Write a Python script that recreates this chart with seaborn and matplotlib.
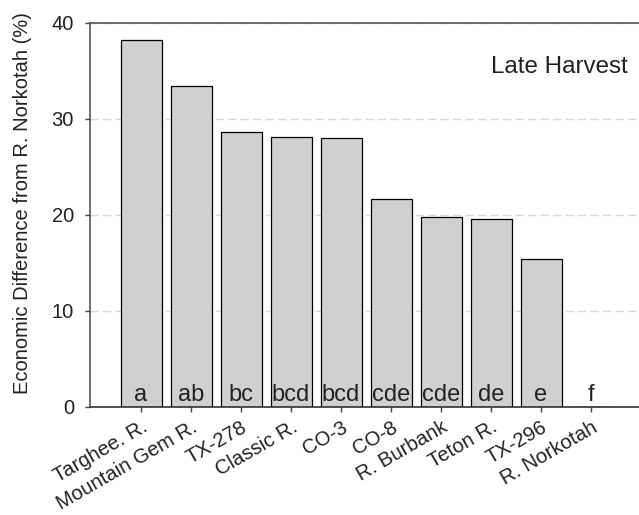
import matplotlib
matplotlib.use("Agg")
import matplotlib.pyplot as plt
import seaborn as sns
import pandas as pd

cultivars = ["Targhee. R.", "Mountain Gem R.", "TX-278", "Classic R.", "CO-3",
             "CO-8", "R. Burbank", "Teton R.", "TX-296", "R. Norkotah"]
values = [38.2, 33.4, 28.6, 28.1, 28.0, 21.7, 19.8, 19.6, 15.4, 0.0]
letters = ["a", "ab", "bc", "bcd", "bcd", "cde", "cde", "de", "e", "f"]
yticks = [0, 10, 20, 30, 40]

df = pd.DataFrame({"cultivar": cultivars, "value": values})

sns.set_style("white")
plt.rcParams['font.family'] = ['Liberation Sans', 'DejaVu Sans']

fig = plt.figure(figsize=(6.39, 5.15), dpi=100)
ax = fig.add_axes([90/639, 1-407/515, 549/639, (407-23)/515])

ax.set_axisbelow(True)
ax.yaxis.grid(True, color="#dadada", linestyle=(0, (6, 3)), linewidth=1.0)
ax.xaxis.grid(False)

sns.barplot(data=df, x="cultivar", y="value", color="#d0d0d0", saturation=1,
            edgecolor="black", linewidth=0.9, width=0.82, ax=ax)

for i, t in enumerate(letters):
    ax.text(i, 0.66, t, ha="center", va="baseline", fontsize=17, color="#222222")

ax.set_ylim(0, 40)
ax.set_xlim(-1.02, 9.96)
ax.set_yticks(yticks)
ax.set_yticklabels([str(v) for v in yticks], fontsize=14.5, color="#222222")
ax.set_xticks(range(len(cultivars)))
ax.set_xticklabels(cultivars, rotation=30, ha="right", va="top",
                   rotation_mode="anchor", fontsize=14.6, color="#222222")
ax.tick_params(axis="both", direction="out", length=3.6, width=1, color="#444444",
               bottom=True, left=True)
ax.tick_params(axis="y", pad=8)
ax.tick_params(axis="x", pad=4)
ax.set_xlabel("")
ax.set_ylabel("Economic Difference from R. Norkotah (%)", fontsize=14.5, color="#222222")
ax.yaxis.set_label_coords(-0.106, 0.53)

for s in ["left", "bottom", "top"]:
    ax.spines[s].set_visible(True)
    ax.spines[s].set_color("#555555")
    ax.spines[s].set_linewidth(1.2)
ax.spines["bottom"].set_color("#333333")
ax.spines["right"].set_visible(False)

ax.text(0.98, 0.885, "Late Harvest", transform=ax.transAxes, ha="right", va="center",
        fontsize=17.4, color="#222222")

fig.savefig("out.png", dpi=100)
